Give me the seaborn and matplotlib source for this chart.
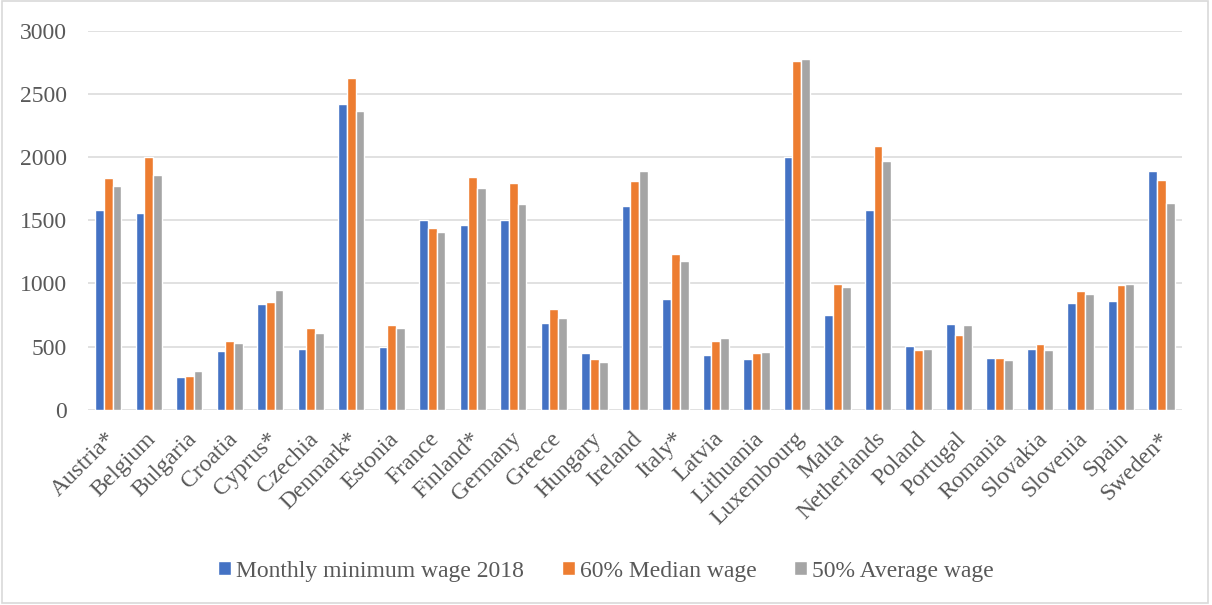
import matplotlib
matplotlib.use("Agg")
import matplotlib.pyplot as plt
import matplotlib.transforms as mtransforms
from matplotlib.patches import Rectangle
import pandas as pd
import seaborn as sns

countries = ["Austria*", "Belgium", "Bulgaria", "Croatia", "Cyprus*", "Czechia",
             "Denmark*", "Estonia", "France", "Finland*", "Germany", "Greece",
             "Hungary", "Ireland", "Italy*", "Latvia", "Lithuania", "Luxembourg",
             "Malta", "Netherlands", "Poland", "Portugal", "Romania", "Slovakia",
             "Slovenia", "Spain", "Sweden*"]

min_wage_2018 = [1582, 1555, 261, 462, 840, 478, 2420, 500, 1498, 1463, 1498, 684,
                 445, 1614, 878, 430, 400, 1999, 748, 1578, 503, 677, 408, 480,
                 843, 859, 1887]
median_60 = [1833, 1998, 264, 546, 850, 650, 2625, 667, 1442, 1845, 1798, 796,
             404, 1810, 1236, 543, 452, 2763, 996, 2088, 471, 594, 411, 522,
             938, 985, 1819]
average_50 = [1771, 1861, 303, 527, 945, 609, 2362, 645, 1405, 1758, 1626, 723,
              375, 1890, 1175, 567, 457, 2772, 973, 1972, 480, 671, 393, 471,
              914, 998, 1634]

series_names = ["Monthly minimum wage 2018", "60% Median wage", "50% Average wage"]
colors = ["#4472C4", "#ED7D31", "#A5A5A5"]
y_ticks = [0, 500, 1000, 1500, 2000, 2500, 3000]

records = []
for name, values in zip(series_names, [min_wage_2018, median_60, average_50]):
    for c, v in zip(countries, values):
        records.append({"country": c, "value": v, "series": name})
df = pd.DataFrame(records)

sns.set_theme(style="white")
plt.rcParams["font.family"] = ["Liberation Serif", "DejaVu Serif"]
text_color = "#595959"

fig = plt.figure(figsize=(12.12, 6.05), dpi=100)
ax = fig.add_axes([0.0726, 0.3228, 0.9024, 0.6265])

sns.barplot(data=df, x="country", y="value", hue="series",
            hue_order=series_names, order=countries, palette=colors,
            saturation=1, width=0.65, edgecolor="white", linewidth=1.0,
            errorbar=None, ax=ax)

ax.set_ylim(0, 3000)
ax.set_xlim(-0.5, len(countries) - 0.5)
ax.set_yticks(y_ticks)
ax.set_yticklabels([str(t) for t in y_ticks])
ax.yaxis.grid(True, color="#d9d9d9", linewidth=1.1)
ax.set_axisbelow(True)
for s in ax.spines.values():
    s.set_visible(False)
ax.set_xlabel("")
ax.set_ylabel("")

ax.tick_params(axis="y", length=0, pad=15, labelsize=17, labelcolor=text_color)
ax.tick_params(axis="x", length=0, pad=8, labelsize=17, labelcolor=text_color)
shift = mtransforms.ScaledTranslation(0.04, -0.15, fig.dpi_scale_trans)
for lbl in ax.get_xticklabels():
    lbl.set_rotation(45)
    lbl.set_ha("right")
    lbl.set_va("center")
    lbl.set_rotation_mode("anchor")
    lbl.set_transform(lbl.get_transform() + shift)

handles, labels = ax.get_legend_handles_labels()
ax.get_legend().remove()
fig.legend(handles, labels, loc="center", bbox_to_anchor=(0.5, 0.056), ncol=3,
           frameon=False, fontsize=17, labelcolor=text_color,
           handlelength=0.55, handleheight=0.55, handletextpad=0.2,
           columnspacing=1.6)

fig.patches.append(Rectangle((0.002, 0.003), 0.995, 0.995, transform=fig.transFigure,
                             fill=False, edgecolor="#d9d9d9", linewidth=1.2))

fig.savefig("out.png", dpi=100)
